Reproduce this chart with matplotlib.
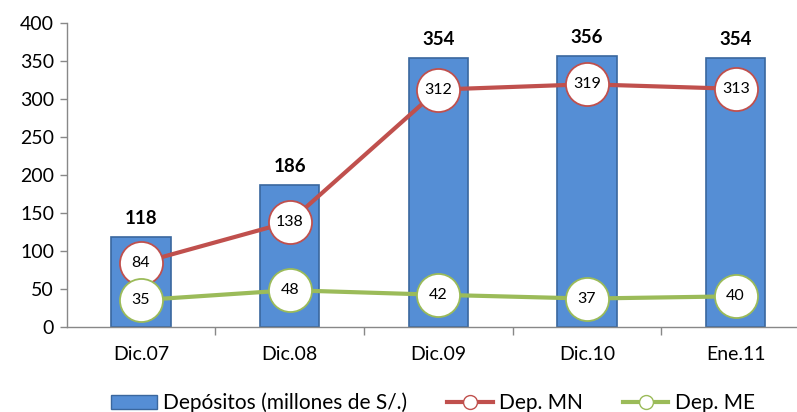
import matplotlib
matplotlib.use("Agg")
import matplotlib.pyplot as plt
import numpy as np
from matplotlib.patches import Patch
from matplotlib.lines import Line2D

categories = ["Dic.07", "Dic.08", "Dic.09", "Dic.10", "Ene.11"]
depositos = [118, 186, 354, 356, 354]
dep_mn = [84, 138, 312, 319, 313]
dep_me = [35, 48, 42, 37, 40]
yticks = [0, 50, 100, 150, 200, 250, 300, 350, 400]

plt.rcParams['font.family'] = ['Lato', 'DejaVu Sans']

W, H = 797, 412
fig = plt.figure(figsize=(W/100, H/100), dpi=100)
left = 66.6/W
right = 810/W
bottom = 1 - 326.7/H
top = 1 - 22.7/H
ax = fig.add_axes([left, bottom, right-left, top-bottom])

x = np.arange(len(categories))
bar_c = '#558ED5'
bar_e = '#3A679E'
red = '#C0504D'
green = '#9BBB59'

ax.bar(x, depositos, width=0.4, color=bar_c, edgecolor=bar_e, linewidth=1.2, zorder=2)
ax.plot(x, dep_mn, color=red, lw=3, marker='o', ms=31, mfc='white', mec=red, mew=1.3, zorder=3)
ax.plot(x, dep_me, color=green, lw=3, marker='o', ms=31, mfc='white', mec=green, mew=1.3, zorder=4)

for xi, v in zip(x, depositos):
    ax.text(xi, v + 13, str(v), ha='center', va='bottom', fontsize=13.5, fontweight='bold', color='black')
for xi, v in zip(x, dep_mn):
    ax.text(xi, v, str(v), ha='center', va='center', fontsize=11.5, color='black', zorder=5)
for xi, v in zip(x, dep_me):
    ax.text(xi, v, str(v), ha='center', va='center', fontsize=11.5, color='black', zorder=5)

ax.set_xlim(-0.5, len(categories) - 0.5)
ax.set_ylim(0, 400)
ax.set_yticks(yticks)
ax.set_yticklabels([str(t) for t in yticks], fontsize=14)
ax.set_xticks(x)
ax.set_xticklabels(categories, fontsize=14)
ax.tick_params(axis='x', length=0, pad=14)
ax.set_xticks(np.arange(0.5, len(categories) - 0.5, 1), minor=True)
ax.tick_params(axis='x', which='minor', length=6, color='#888888', width=1)
ax.tick_params(axis='y', length=5, color='#888888', width=1, pad=4)
for s in ['top', 'right']:
    ax.spines[s].set_visible(False)
for s in ['left', 'bottom']:
    ax.spines[s].set_color('#888888')
    ax.spines[s].set_linewidth(1)

handles = [
    Patch(facecolor=bar_c, edgecolor=bar_e, label='Depósitos (millones de S/.)'),
    Line2D([0], [0], color=red, lw=3, marker='o', ms=10, mfc='white', mec=red, label='Dep. MN'),
    Line2D([0], [0], color=green, lw=3, marker='o', ms=10, mfc='white', mec=green, label='Dep. ME'),
]
fig.legend(handles=handles, loc='center', bbox_to_anchor=(433/W, 1 - 403/H), ncol=3,
           frameon=False, fontsize=15, handlelength=2.2, columnspacing=1.9, handletextpad=0.3,
           borderpad=0)

fig.savefig('out.png', dpi=100)
